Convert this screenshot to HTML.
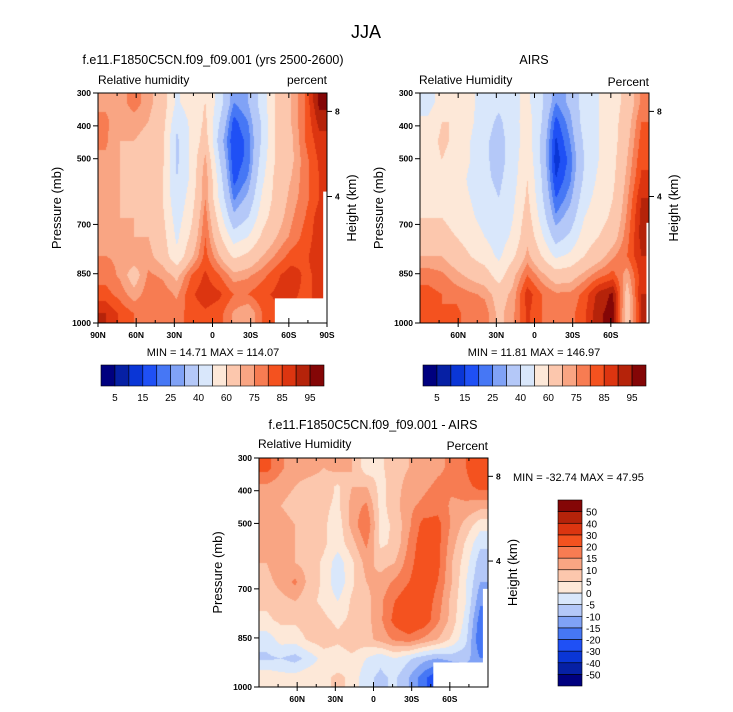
<!DOCTYPE html>
<html><head><meta charset="utf-8">
<style>
html,body{margin:0;padding:0;background:#fff;}
#wrap{position:relative;width:733px;height:712px;overflow:hidden;font-family:"Liberation Sans",sans-serif;}
canvas{position:absolute;}
svg{position:absolute;left:0;top:0;}
text{font-family:"Liberation Sans",sans-serif;fill:#000;}
</style></head>
<body>
<div id="wrap">
<canvas id="c1"></canvas>
<canvas id="c2"></canvas>
<canvas id="c3"></canvas>
<svg id="s" width="733" height="712"></svg>
</div>
<script>
// ---- data ----
const rhLevels=[5,10,15,20,25,30,40,50,60,70,75,80,85,90,95];
const rhTickLabels=["5","15","25","40","60","75","85","95"];
const diffLevels=[-50,-40,-30,-20,-15,-10,-5,0,5,10,15,20,30,40,50];
const diffTickLabels=["-50","-40","-30","-20","-15","-10","-5","0","5","10","15","20","30","40","50"];
const colors=["#00007f","#0620a4","#0a36d6","#1f50f5","#4677f5","#80a2f6","#b4c8f8","#d9e7fb","#fde8d8","#fcc7ad","#f9a583","#f77c52","#f4521f","#dc3510","#b5230a","#840606"];
const lats=[84,73,62,51,39,28,17,6,-6,-17,-28,-39,-51,-62,-73,-84];
const pressureRows=[329,387,446,504,562,621,679,737,796,854,912,971];
const model=[
[74,72,78,72,66,48,56,60,45,25,30,45,62,70,80,97],
[76,72,72,70,64,42,52,62,40,18,25,42,62,70,80,92],
[76,70,70,68,62,38,52,65,35,15,22,42,62,68,80,88],
[74,70,68,68,62,38,52,72,40,16,22,45,62,68,78,86],
[74,70,68,66,60,40,52,75,45,18,26,48,64,70,78,85],
[72,70,68,66,60,42,55,75,48,24,32,52,64,72,78,85],
[72,70,70,68,62,45,58,78,55,32,40,56,66,74,80,88],
[74,72,70,70,64,48,62,80,62,45,50,62,70,76,82,88],
[75,74,74,72,66,52,68,82,70,58,62,70,76,82,84,88],
[78,74,66,76,74,68,80,86,80,72,74,78,84,88,84,86],
[82,78,72,78,78,74,84,88,86,80,80,84,86,86,84,86],
[90,84,80,78,78,78,82,84,82,74,70,80,84,84,84,86]];
const airs=[
[45,55,58,52,46,42,48,52,42,25,32,45,50,55,64,76],
[52,60,60,52,44,38,46,55,40,18,28,45,50,56,66,80],
[55,62,58,50,42,36,45,55,38,14,25,42,50,56,68,82],
[55,60,56,50,42,36,45,58,38,12,22,40,50,57,70,84],
[55,58,55,48,42,38,46,60,40,15,24,42,52,58,72,86],
[56,58,55,50,44,40,48,62,42,20,28,46,54,60,74,90],
[60,60,56,52,46,42,50,65,46,26,34,50,56,62,76,92],
[65,64,60,56,50,45,52,68,52,35,42,55,60,66,78,92],
[70,70,65,60,55,48,58,72,60,48,52,60,66,74,80,90],
[78,76,72,68,65,55,68,80,72,65,66,72,78,82,72,88],
[82,80,78,76,74,66,72,88,80,76,76,82,92,96,66,90],
[84,80,82,76,78,68,74,86,80,76,78,84,94,97,64,90]];
const diff=[
[22,16,12,12,10,12,10,2,4,8,10,12,14,16,20,28],
[14,12,10,8,8,4,10,10,3,8,12,14,16,16,18,22],
[10,10,8,8,6,4,12,16,3,8,14,16,18,14,14,12],
[10,12,10,8,6,2,12,20,3,6,14,22,22,14,8,2],
[12,12,10,8,6,2,8,16,4,6,16,24,22,12,4,-4],
[10,14,10,8,4,-3,4,12,8,10,18,24,22,10,2,-8],
[8,12,16,8,4,-4,4,10,12,16,20,24,20,10,0,-10],
[6,8,10,6,4,0,6,8,14,20,24,24,18,8,0,-14],
[4,6,6,8,6,4,6,8,14,22,26,24,16,8,-2,-18],
[-3,2,2,6,8,6,8,8,12,16,18,14,10,4,-4,-20],
[-6,-5,-7,-3,2,2,4,0,-4,0,-4,-8,-10,-8,-8,-15],
[4,2,2,4,4,6,4,-4,-6,-4,-10,-18,-25,-20,-15,-15]];
// missing-data regions: [latFrom, latTo, pFrom, pTo]
const missing1=[[-49,-90,925,1000],[-87,-90,600,1000]];
const missing2=[[-88,-90,695,1000]];
const missing3=[[-47,-90,925,1000],[-86,-90,700,1000]];
const pTicks=[300,400,500,700,850,1000];
const hTicks=[[8,356],[4,615]]; // km, pressure position
const latTicks1=[90,60,30,0,-30,-60,-90];
const latTicks2=[60,30,0,-30,-60];

const panels=[
 {id:"c1",x0:98,x1:327,y0:93,y1:323,data:model,levels:rhLevels,miss:missing1,lt:latTicks1,name:"model"},
 {id:"c2",x0:420,x1:649,y0:93,y1:323,data:airs,levels:rhLevels,miss:missing2,lt:latTicks2,name:"airs"},
 {id:"c3",x0:259,x1:488,y0:458,y1:687,data:diff,levels:diffLevels,miss:missing3,lt:latTicks2,name:"diff"}];

const S=document.getElementById('s');
const NS="http://www.w3.org/2000/svg";
function el(tag,attrs,txt){const e=document.createElementNS(NS,tag);for(const k in attrs)e.setAttribute(k,attrs[k]);if(txt!==undefined)e.textContent=txt;S.appendChild(e);return e;}
function classify(v,lv){let i=0;while(i<lv.length&&v>=lv[i])i++;return i;}
function interp(data,lat,p){
 const nc=lats.length,nr=pressureRows.length;
 let cf=(lats[0]-lat)/(lats[0]-lats[nc-1])*(nc-1);
 let rf=(p-pressureRows[0])/(pressureRows[nr-1]-pressureRows[0])*(nr-1);
 cf=Math.max(0,Math.min(nc-1,cf));rf=Math.max(0,Math.min(nr-1,rf));
 const c0=Math.min(nc-2,Math.floor(cf)),r0=Math.min(nr-2,Math.floor(rf));
 const fx=cf-c0,fy=rf-r0;
 const a=data[r0][c0],b=data[r0][c0+1],c=data[r0+1][c0],d=data[r0+1][c0+1];
 return a*(1-fx)*(1-fy)+b*fx*(1-fy)+c*(1-fx)*fy+d*fx*fy;
}
panels.forEach(P=>{
 const w=P.x1-P.x0,h=P.y1-P.y0;
 const xs=lat=>P.x0+(90-lat)/180*w;
 const ys=p=>P.y0+(p-300)/700*h;
 const cv=document.getElementById(P.id);
 cv.width=w;cv.height=h;cv.style.left=P.x0+"px";cv.style.top=P.y0+"px";
 const ctx=cv.getContext('2d');
 for(let py=0;py<h;py++){for(let px=0;px<w;px++){
   const lat=90-(px+0.5)/w*180,p=300+(py+0.5)/h*700;
   ctx.fillStyle=colors[classify(interp(P.data,lat,p),P.levels)];
   ctx.fillRect(px,py,1,1);}}
 P.miss.forEach(m=>{
   const r=el('rect',{x:xs(m[0]),y:ys(m[2]),width:xs(m[1])-xs(m[0]),height:ys(m[3])-ys(m[2]),fill:"#fff"});
   
   
 });
 const fr=el('rect',{x:P.x0,y:P.y0,width:w,height:h,fill:"none",stroke:"#000","stroke-width":1});
 
 
 pTicks.forEach(p=>{
   el('line',{x1:P.x0-5,x2:P.x0,y1:ys(p),y2:ys(p),stroke:"#000"});
   const t=el('text',{x:P.x0-7,y:ys(p)+3,"font-size":8.5,"font-weight":"bold","text-anchor":"end"},p);
   
   
 });
 hTicks.forEach(hh=>{
   el('line',{x1:P.x1,x2:P.x1+5,y1:ys(hh[1]),y2:ys(hh[1]),stroke:"#000"});
   const t=el('text',{x:P.x1+8,y:ys(hh[1])+3,"font-size":8.5,"font-weight":"bold"},hh[0]);
   
   
 });
 for(let lat=90;lat>=-90;lat-=15){
   const major=lat%30===0;
   el('line',{x1:xs(lat),x2:xs(lat),y1:P.y0,y2:P.y0+(major?5:3),stroke:"#000"});
   el('line',{x1:xs(lat),x2:xs(lat),y1:P.y1,y2:P.y1-(major?5:3),stroke:"#000"});
 }
 P.lt.forEach(lat=>{
   el('line',{x1:xs(lat),x2:xs(lat),y1:P.y1,y2:P.y1+4,stroke:"#000"});
   const lab=lat===0?"0":(Math.abs(lat)+(lat>0?"N":"S"));
   const t=el('text',{x:xs(lat),y:P.y1+15,"font-size":8.5,"font-weight":"bold","text-anchor":"middle"},lab);
   
   
 });
 const yl=el('text',{x:0,y:0,"font-size":13,"text-anchor":"middle",transform:`translate(${P.x0-37},${(P.y0+P.y1)/2}) rotate(-90)`},"Pressure (mb)");
 
 
 const hl=el('text',{x:0,y:0,"font-size":13,"text-anchor":"middle",transform:`translate(${P.x1+29},${(P.y0+P.y1)/2}) rotate(-90)`},"Height (km)");
 
 
});
function txt(x,y,s,size,name,anchor){const t=el('text',{x:x,y:y,"font-size":size,"text-anchor":anchor||"start"},s);
 return t;}
txt(366,38,"JJA",18,"figure-title","middle");
txt(213,64,"f.e11.F1850C5CN.f09_f09.001 (yrs 2500-2600)",12.5,"model-panel-title","middle");
txt(98,84,"Relative humidity",12,"model-left-subtitle");
txt(327,84,"percent",12,"model-right-subtitle","end");
txt(534,64,"AIRS",12.5,"airs-panel-title","middle");
txt(419,84,"Relative Humidity",12,"airs-left-subtitle");
txt(649,86,"Percent",12,"airs-right-subtitle","end");
txt(373,429,"f.e11.F1850C5CN.f09_f09.001 - AIRS",12.5,"diff-panel-title","middle");
txt(258,448,"Relative Humidity",12,"diff-left-subtitle");
txt(488,450,"Percent",12,"diff-right-subtitle","end");
txt(213,356,"MIN =  14.71   MAX = 114.07",11,"model-min-max","middle");
txt(534,356,"MIN =  11.81   MAX = 146.97",11,"airs-min-max","middle");
txt(513,481,"MIN = -32.74   MAX =  47.95",11,"diff-min-max");
// horizontal colorbars
[[101,324,"model-colorbar"],[423,646,"airs-colorbar"]].forEach(cb=>{
 const bw=(cb[1]-cb[0])/colors.length;
 colors.forEach((c,i)=>{const r=el('rect',{x:cb[0]+i*bw,y:365,width:bw,height:21,fill:c,stroke:"#000","stroke-width":0.6});
  });
 rhTickLabels.forEach((l,i)=>{const t=el('text',{x:cb[0]+(2*i+1)*bw,y:401,"font-size":10,"text-anchor":"middle"},l);
  });
});
// vertical colorbar
{const y0=500,y1=686,bh=(y1-y0)/colors.length;
 colors.forEach((c,i)=>{const r=el('rect',{x:558,y:y1-(i+1)*bh,width:24,height:bh,fill:c,stroke:"#000","stroke-width":0.6});
  });
 diffTickLabels.forEach((l,i)=>{const t=el('text',{x:586,y:y1-(i+1)*bh+4,"font-size":10},l);
  });
}
</script>
</body></html>
